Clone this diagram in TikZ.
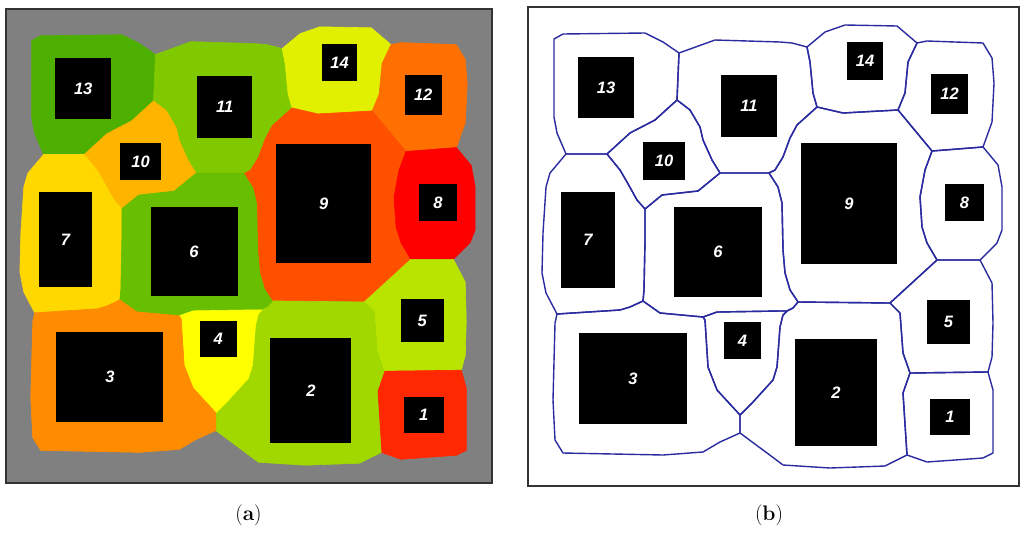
\documentclass[tikz,border=0pt]{standalone}
\usepackage{fontspec}
\newfontfamily\numfont{Liberation Sans}
\definecolor{bggray}{HTML}{808080}
\definecolor{framegray}{HTML}{333333}
\definecolor{vblue}{HTML}{2B2BA0}
\definecolor{cI}{HTML}{FF2800}
\definecolor{cII}{HTML}{A0D800}
\definecolor{cIII}{HTML}{FF8C00}
\definecolor{cIV}{HTML}{FFFF00}
\definecolor{cV}{HTML}{B9E400}
\definecolor{cVI}{HTML}{68BE00}
\definecolor{cVII}{HTML}{FFD800}
\definecolor{cVIII}{HTML}{FF0000}
\definecolor{cIX}{HTML}{FF5000}
\definecolor{cX}{HTML}{FFB400}
\definecolor{cXI}{HTML}{80C800}
\definecolor{cXII}{HTML}{FF7000}
\definecolor{cXIII}{HTML}{4DB000}
\definecolor{cXIV}{HTML}{E0F000}
% cell outlines (coordinates of panel b, in pixels)
\def\polyXIII{(554,39) -- (563,34) -- (645,33) -- (663,42) -- (679,53) -- (677,100) -- (655,120) -- (630,133) -- (607,154) -- (566,154) -- (557,133) -- (554,117) -- cycle}
\def\polyXI{(679,53) -- (715,40) -- (780,42) -- (792,43) -- (807,47) -- (810,62) -- (813,93) -- (817,107) -- (797,125) -- (790,138) -- (783,157) -- (775,170) -- (769,173) -- (720,173) -- (712,160) -- (703,140) -- (700,127) -- (690,110) -- (677,100) -- cycle}
\def\polyX{(677,100) -- (690,110) -- (700,127) -- (703,140) -- (712,160) -- (720,173) -- (698,191) -- (680,193) -- (662,195) -- (645,209) -- (637,200) -- (627,182) -- (620,170) -- (607,154) -- (630,133) -- (655,120) -- cycle}
\def\polyVII{(566,154) -- (607,154) -- (620,170) -- (627,182) -- (637,200) -- (645,209) -- (645,240) -- (644,290) -- (643,301) -- (630,307) -- (620,310) -- (557,314) -- (546,293) -- (542,273) -- (543,233) -- (546,187) -- (550,173) -- cycle}
\def\polyVI{(645,209) -- (662,195) -- (680,193) -- (698,191) -- (720,173) -- (769,173) -- (778,187) -- (782,203) -- (783,250) -- (785,273) -- (790,290) -- (798,302) -- (793,308) -- (787,311) -- (780,311) -- (717,312) -- (703,317) -- (660,313) -- (643,301) -- (644,290) -- (645,240) -- cycle}
\def\polyXIV{(807,47) -- (825,32) -- (845,25) -- (897,26) -- (917,43) -- (908,62) -- (905,93) -- (898,110) -- (843,113) -- (817,107) -- (813,93) -- (810,62) -- cycle}
\def\polyXII{(917,43) -- (927,41) -- (983,43) -- (992,58) -- (994,83) -- (992,122) -- (983,147) -- (932,151) -- (898,110) -- (905,93) -- (908,62) -- cycle}
\def\polyIX{(817,107) -- (843,113) -- (898,110) -- (932,151) -- (925,170) -- (920,197) -- (922,227) -- (927,243) -- (937,260) -- (890,303) -- (798,302) -- (790,290) -- (785,273) -- (783,250) -- (782,203) -- (778,187) -- (769,173) -- (775,170) -- (783,157) -- (790,138) -- (797,125) -- cycle}
\def\polyVIII{(932,151) -- (983,147) -- (998,165) -- (1002,187) -- (1002,230) -- (997,243) -- (980,260) -- (937,260) -- (927,243) -- (922,227) -- (920,197) -- (925,170) -- cycle}
\def\polyV{(937,260) -- (980,260) -- (992,283) -- (993,323) -- (992,357) -- (988,372) -- (910,373) -- (903,353) -- (900,313) -- (890,303) -- cycle}
\def\polyI{(910,373) -- (988,372) -- (993,390) -- (993,453) -- (983,458) -- (927,462) -- (907,455) -- (903,393) -- cycle}
\def\polyII{(798,302) -- (890,303) -- (900,313) -- (903,353) -- (910,373) -- (903,393) -- (907,455) -- (885,466) -- (830,468) -- (783,465) -- (767,453) -- (740,433) -- (740,415) -- (753,402) -- (773,380) -- (777,367) -- (780,327) -- (783,315) -- (787,311) -- (793,308) -- cycle}
\def\polyIV{(703,317) -- (717,312) -- (780,311) -- (787,311) -- (783,315) -- (780,327) -- (777,367) -- (773,380) -- (753,402) -- (740,415) -- (717,390) -- (708,367) -- (705,320) -- cycle}
\def\polyIII{(557,314) -- (620,310) -- (630,307) -- (643,301) -- (660,313) -- (703,317) -- (705,320) -- (708,367) -- (717,390) -- (740,415) -- (740,433) -- (720,442) -- (703,452) -- (663,455) -- (563,453) -- (555,440) -- (553,400) -- (555,323) -- cycle}
\newcommand\blkrect[6]{\fill[blk] (#1,#2) rectangle (#3,#4);
  \node[num] (#6) at ({(#1+#3)/2},{(#2+#4)/2}) {#5};}
\newcommand\allrects[1]{%
\blkrect{578}{57}{634}{118}{13}{#1r13}
\blkrect{721}{75}{777}{137}{11}{#1r11}
\blkrect{643}{142}{685}{180}{10}{#1r10}
\blkrect{561}{192}{615}{288}{7}{#1r7}
\blkrect{674}{207}{762}{297}{6}{#1r6}
\blkrect{847}{42}{883}{80}{14}{#1r14}
\blkrect{931}{74}{968}{114}{12}{#1r12}
\blkrect{801}{143}{897}{264}{9}{#1r9}
\blkrect{945}{184}{984}{221}{8}{#1r8}
\blkrect{579}{333}{687}{424}{3}{#1r3}
\blkrect{724}{322}{761}{359}{4}{#1r4}
\blkrect{795}{339}{877}{446}{2}{#1r2}
\blkrect{927}{300}{970}{344}{5}{#1r5}
\blkrect{930}{399}{970}{435}{1}{#1r1}}
\begin{document}
\begin{tikzpicture}[x=1pt,y=-1pt,
  blk/.style={fill=black},
  num/.style={text=white, inner sep=0pt, font=\numfont\bfseries\itshape\fontsize{16.5}{16.5}\selectfont},
  cellfill/.style={fill=#1, draw=#1, line width=0.6pt, line join=round},
  vline/.style={draw=vblue, line width=1.4pt, line join=round},
  frameline/.style={draw=framegray, line width=1.6pt},
  captext/.style={inner sep=0pt, font=\fontsize{21}{21}\selectfont}]
\useasboundingbox (0,0) rectangle (1024,533);
% ---- panel (a)
\begin{scope}[shift={(6,9)}, xscale=0.9898, yscale=0.9896, shift={(-528,-7)}]
  \fill[bggray] (528,7) rectangle (1019,486);
  \path[cellfill=cXIII] \polyXIII;
  \path[cellfill=cXI] \polyXI;
  \path[cellfill=cX] \polyX;
  \path[cellfill=cVII] \polyVII;
  \path[cellfill=cVI] \polyVI;
  \path[cellfill=cXIV] \polyXIV;
  \path[cellfill=cXII] \polyXII;
  \path[cellfill=cIX] \polyIX;
  \path[cellfill=cVIII] \polyVIII;
  \path[cellfill=cV] \polyV;
  \path[cellfill=cI] \polyI;
  \path[cellfill=cII] \polyII;
  \path[cellfill=cIV] \polyIV;
  \path[cellfill=cIII] \polyIII;
  \allrects{a}
  \draw[frameline] (528,7) rectangle (1019,486);
\end{scope}
% ---- panel (b)
\fill[white] (528,7) rectangle (1019,486);
\path[vline] \polyXIII;
\path[vline] \polyXI;
\path[vline] \polyX;
\path[vline] \polyVII;
\path[vline] \polyVI;
\path[vline] \polyXIV;
\path[vline] \polyXII;
\path[vline] \polyIX;
\path[vline] \polyVIII;
\path[vline] \polyV;
\path[vline] \polyI;
\path[vline] \polyII;
\path[vline] \polyIV;
\path[vline] \polyIII;
\allrects{b}
\draw[frameline] (528,7) rectangle (1019,486);
% ---- captions
\node[captext] (capa) at (248.5,515) {(\textbf{a})};
\node[captext] (capb) at (769,515) {(\textbf{b})};
\end{tikzpicture}
\end{document}
